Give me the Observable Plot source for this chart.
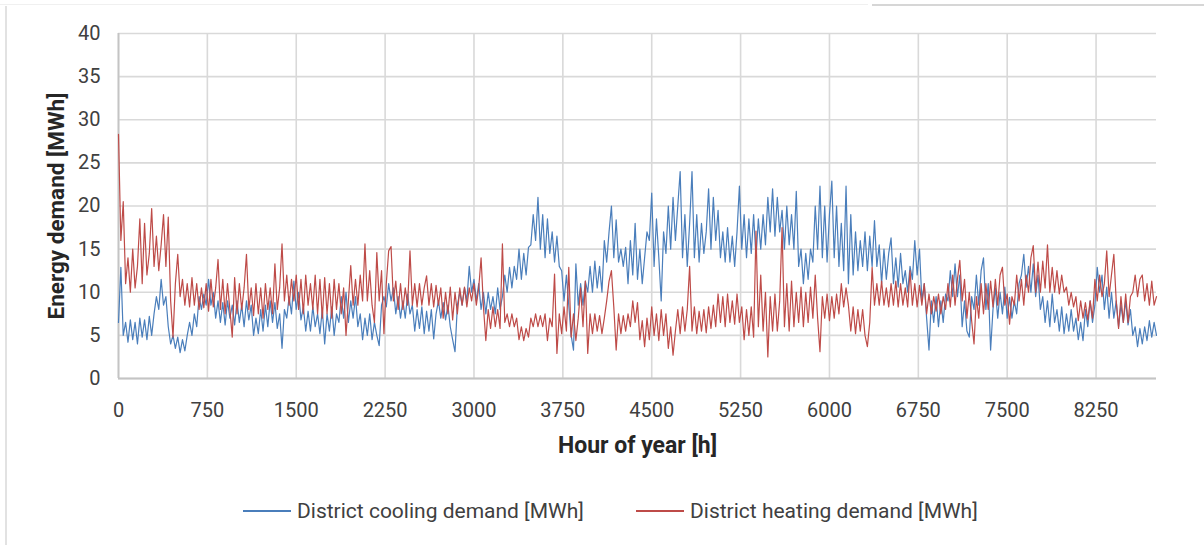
<!DOCTYPE html>
<html>
<head>
<meta charset="utf-8">
<script src="https://cdn.jsdelivr.net/npm/d3@7"></script>
<script src="https://cdn.jsdelivr.net/npm/@observablehq/plot@0.6"></script>
<style>
  html, body { margin: 0; padding: 0; background: #ffffff; }
  #wrap { position: relative; width: 1204px; height: 545px; overflow: hidden; background: #fff; font-family: Roboto, "Open Sans", sans-serif; }
  .frameL { position: absolute; left: 5px; top: 6px; width: 2px; height: 545px; background: #e2e2e2; }
  .frameT1 { position: absolute; left: 0px; top: 4px; width: 868px; height: 1px; background: #f0f0f0; }
  .frameT2 { position: absolute; left: 872px; top: 4px; width: 332px; height: 2px; background: #d6d6d6; }
  #chart { position: absolute; left: 0; top: 0; }
  .leg { position: absolute; top: 497px; height: 28px; display: flex; align-items: center; font-size: 21px; color: #404040; white-space: nowrap; }
  .leg .ln { width: 48px; height: 1.6px; margin-right: 6px; }
</style>
</head>
<body>
<div id="wrap">
  <div class="frameT1"></div>
  <div class="frameT2"></div>
  <div class="frameL"></div>
  <div id="chart"></div>
</div>
<script>
// ---- data ----
const stepHours = 20; // sampling interval of the readings, hours
const xTicks = [0, 750, 1500, 2250, 3000, 3750, 4500, 5250, 6000, 6750, 7500, 8250];
const yTicks = [0, 5, 10, 15, 20, 25, 30, 35, 40];
const seriesNames = ["District cooling demand [MWh]", "District heating demand [MWh]"];

// District cooling demand [MWh], one reading every 20 h from hour 0 to 8760 (10 readings per row)
const cooling = [
  6.5, 12.9, 5, 6.5, 4.2, 6.8, 4.5, 6.5, 4, 7,
  4.8, 6.8, 4.5, 7.2, 5, 7.5, 9.5, 8, 11.5, 8.5,
  9.5, 6, 4, 5, 3.5, 4.8, 3, 4.5, 3.2, 5,
  6.5, 5, 7.5, 6, 9.5, 8, 9.8, 8.5, 11.5, 8.5,
  10, 7, 9, 6.5, 8.8, 6.2, 9, 7, 8.5, 6.2,
  9, 6.5, 8.5, 6, 9, 6.8, 8.5, 5, 7, 5.2,
  8, 5.5, 8.5, 6, 9, 6.5, 8.8, 5.8, 7.5, 3.5,
  8, 7, 9.5, 7.5, 11.3, 8, 10, 6.8, 8.3, 5.5,
  7.8, 5.5, 8.3, 6, 7.5, 5.2, 8, 4, 7.5, 5.5,
  8.3, 5, 7.5, 6.5, 9.5, 7, 10, 6.5, 9, 7,
  9.5, 6, 7.5, 4.5, 7, 5, 7.5, 4.5, 6.5, 5,
  3.8, 8.5, 9.5, 8.3, 11, 9, 10.5, 7.5, 9.5, 7,
  9, 7, 9.8, 7.5, 8.5, 5.5, 8, 5.8, 8.3, 5.2,
  7.8, 5.5, 8, 4.6, 7.5, 9, 7, 8.8, 6.8, 8.5,
  6, 4.5, 3.1, 8.5, 10, 8.5, 10.5, 9, 13, 10,
  11.5, 9, 11, 8, 10, 7.5, 10, 8, 9.5, 7.5,
  10.5, 8, 9.5, 12, 10, 12.9, 10.5, 13, 11.5, 15,
  11.5, 14.5, 12, 15.2, 15.5, 19, 16, 21, 15, 19,
  14, 18.5, 14.5, 17, 13.5, 16.5, 13, 12.5, 9, 12,
  8.5, 5, 3.3, 13.3, 8.5, 11, 8.5, 11.3, 10, 13,
  10, 13.6, 10.5, 13, 10, 16, 13.5, 17, 20, 14,
  18.4, 13.5, 15, 13, 15.2, 11, 16, 12, 18, 11.5,
  15, 11, 14, 17, 16, 21.5, 13, 18.5, 14, 9,
  17, 14.5, 20, 15, 21, 16, 20, 24, 14, 19,
  13, 18, 24, 14, 19, 13.5, 18, 14.5, 17, 22,
  15, 21, 16, 19.5, 14, 17, 13.5, 17.5, 13.5, 16.5,
  13, 17, 22.3, 15, 19, 14, 18.5, 14.5, 19, 14,
  18.5, 15, 19, 15.5, 21, 17, 22, 16.5, 21, 17,
  19.5, 15, 20, 15.5, 19, 15, 21.7, 13, 15, 11,
  14.5, 11.5, 15, 13.5, 20, 15, 22.3, 14, 20, 13.5,
  19, 22.9, 14, 20, 13, 18, 12.5, 22.3, 11, 19,
  12, 17, 12.5, 16, 13, 17, 12.5, 16.5, 13, 18.3,
  13, 15.5, 11, 15, 11.5, 14.5, 16.3, 11, 14, 10.6,
  14.5, 11, 12.5, 10, 13, 11.5, 16, 12, 15, 9,
  11, 7, 3.3, 9, 6.5, 9.5, 6, 9, 6.5, 9.8,
  9, 12.5, 9.5, 13.3, 9.5, 12, 6, 9, 5.5, 4.8,
  9.5, 8, 12, 8.5, 12.5, 14, 8, 11, 3.3, 8,
  10.5, 7, 10, 7.5, 10.6, 7, 9.4, 7, 9, 7.5,
  11, 12, 14.4, 10.6, 13, 10, 13.3, 9.5, 12, 8,
  9.5, 6.5, 9, 6, 9.8, 6.5, 8, 5.5, 8.3, 5.2,
  7.5, 5.5, 8, 5.5, 7, 4.5, 6.5, 4.4, 8, 6,
  9, 6.5, 8.5, 12.9, 10, 12, 8, 10.6, 7, 10,
  7, 9, 6, 8.5, 6.5, 9, 6.2, 8, 5, 6,
  3.7, 5.8, 4, 6, 4.4, 6.7, 4.8, 6.5, 5
];

// District heating demand [MWh], one reading every 20 h from hour 0 to 8760 (10 readings per row)
const heating = [
  28.3, 16, 20.5, 11, 14, 10, 15, 10.5, 13, 18.5,
  11, 18, 12, 14.5, 19.7, 13, 16.5, 12.5, 15.5, 19,
  13, 18.7, 9, 4.8, 11, 14.4, 9.5, 11.5, 8.5, 11,
  8.3, 11.7, 8.5, 11, 8, 10.5, 8.2, 11, 7.8, 11.5,
  8.3, 10.5, 13.8, 8, 11.5, 7.5, 11, 8, 4.8, 11.7,
  7.5, 11, 8, 10.5, 14.4, 8, 10.5, 7.3, 11, 7.5,
  10.5, 7, 11, 8, 10.5, 7.5, 13.3, 8, 10.5, 15.6,
  9, 12, 8.5, 11.5, 9, 12, 8, 11.5, 7.5, 12,
  8.5, 11, 8, 12, 7.5, 11.5, 7, 11.7, 7.5, 11,
  7, 11.5, 8, 11, 7.5, 10.5, 5, 9, 13.1, 8.5,
  11.5, 8.5, 12, 9, 15.6, 9, 12.5, 8.5, 6.5, 14.6,
  9, 12.5, 5.2, 11, 14.8, 15.3, 9, 11.3, 8, 11,
  8, 10.5, 8.5, 14.8, 8.5, 11, 8.3, 11, 8.5, 10.5,
  11.9, 8.5, 11, 8.3, 10.8, 8.5, 10.5, 7, 10, 7.5,
  10.6, 6.8, 10, 7.5, 10.5, 8.5, 10.6, 8.3, 10.5, 9,
  11, 8.5, 10.5, 14, 8.3, 4.4, 8, 5.8, 8.3, 6,
  8, 5.8, 15.6, 6.5, 7.5, 6, 7.5, 6, 7, 4.5,
  6, 4.4, 5.8, 4.8, 7, 6, 7.5, 6, 7.3, 6,
  7.5, 4.4, 7, 6, 12.1, 2.9, 7.5, 5.2, 8.3, 5.5,
  12.9, 4.8, 7.5, 4.4, 7, 10.5, 6, 11.3, 2.9, 7.5,
  5.2, 7.5, 5.5, 7.3, 5.2, 7, 9, 11.3, 12.5, 8.3,
  3.3, 7.5, 5.2, 7.3, 5.5, 7.5, 6, 9, 6.5, 8.8,
  4.5, 6.7, 3.7, 7, 4.5, 8.3, 5, 7.5, 4.4, 8,
  5, 7.5, 3.5, 6, 2.7, 5.5, 8, 5.2, 8.3, 5.5,
  8, 13, 5.5, 8.3, 5.2, 7.8, 5.5, 8, 5.3, 8.3,
  5.8, 8.5, 6, 9.8, 6.5, 9.5, 6, 9.8, 6.5, 9,
  6.3, 9.8, 6.5, 8.3, 4.5, 8, 5, 8.3, 4.8, 17.1,
  6, 12, 5.5, 10, 2.5, 9.5, 5.5, 9.8, 5.5, 9,
  17.5, 6, 11, 5.5, 11.3, 6, 10, 6.5, 10.6, 6,
  10, 6.5, 10.6, 7, 12, 7, 3.1, 9.5, 7, 9.8,
  6.7, 9.5, 7, 9.8, 7.5, 11, 8.3, 10.5, 8.5, 5.5,
  8.3, 5.2, 8, 5.5, 8, 5, 3.7, 6.5, 12.9, 8.5,
  11, 8.5, 11.3, 8.5, 10.5, 8.3, 11, 8.5, 11.3, 8.3,
  11, 8.5, 10.5, 8.3, 12.5, 8.5, 11, 8.3, 10.8, 8.5,
  11, 7.5, 9.8, 7.5, 9.5, 7.8, 9.8, 7.5, 9.5, 8,
  11, 8.3, 12, 8.5, 11.5, 13.7, 9, 11.5, 7, 10,
  6.7, 4, 9.5, 7, 11, 7.5, 11, 8, 11.3, 8.3,
  11.5, 8.5, 12, 12.9, 8.5, 9.8, 6.3, 9.5, 8.5, 12,
  9, 11.5, 8.5, 12, 10, 14, 15.4, 10, 13.5, 10,
  13.6, 10.5, 15.5, 10, 12.9, 10, 12.5, 9.8, 12, 10,
  10.6, 8.5, 10, 8.3, 9.5, 6.7, 9, 7, 8.8, 6.8,
  9, 7, 11.5, 9, 12, 9.5, 11, 14.8, 9.5, 12,
  14.4, 9, 5.8, 9.5, 6.5, 9.8, 6.5, 9.5, 10, 12,
  9.5, 11.5, 12, 9, 11, 8.5, 11.3, 8.5, 9.5
];

const colors = ["#4a7ebb", "#be4b48"];

// ---- build tidy table ----
const rows = [];
[cooling, heating].forEach((arr, s) => {
  arr.forEach((v, i) => rows.push({hour: i * stepHours, value: v, series: seriesNames[s]}));
});

const fontStack = "Roboto, 'Open Sans', sans-serif";

const chart = Plot.plot({
  width: 1204,
  height: 480,
  marginLeft: 118,
  marginRight: 48,
  marginTop: 33,
  marginBottom: 102,
  style: {fontFamily: fontStack, fontSize: "20px", color: "#404040", background: "transparent"},
  x: {domain: [0, 8760]},
  y: {domain: [0, 40]},
  color: {domain: seriesNames, range: colors},
  marks: [
    Plot.gridY(yTicks, {stroke: "#d9d9d9", strokeOpacity: 1, strokeWidth: 1.6}),
    Plot.gridX(xTicks, {stroke: "#d9d9d9", strokeOpacity: 1, strokeWidth: 1.6}),
    Plot.ruleX([0], {stroke: "#c4c4c4", strokeWidth: 1.8}),
    Plot.ruleY([0], {stroke: "#c4c4c4", strokeWidth: 1.8}),
    Plot.lineY(rows, {x: "hour", y: "value", z: "series", stroke: "series", strokeWidth: 1.2, curve: "linear"}),
    Plot.axisY(yTicks, {tickSize: 0, tickPadding: 18, fontSize: 20, label: null, fill: "#404040"}),
    Plot.axisX(xTicks, {tickSize: 0, tickPadding: 24, fontSize: 20, label: null, fill: "#404040", tickFormat: d => String(d)}),
    Plot.text(["Hour of year [h]"], {frameAnchor: "bottom", dy: 74, fontSize: 23, fontWeight: "bold", fill: "#262626"}),
    Plot.text(["Energy demand [MWh]"], {frameAnchor: "left", textAnchor: "middle", dx: -62, rotate: -90, fontSize: 22.5, fontWeight: "bold", fill: "#262626"})
  ]
});
document.getElementById("chart").appendChild(chart);

// ---- legend (HTML, below the SVG) ----
const legendLeft = [243, 636];
seriesNames.forEach((name, i) => {
  const item = document.createElement("div");
  item.className = "leg";
  item.style.left = legendLeft[i] + "px";
  const ln = document.createElement("div");
  ln.className = "ln";
  ln.style.background = colors[i];
  const tx = document.createElement("span");
  tx.textContent = name;
  item.appendChild(ln);
  item.appendChild(tx);
  document.getElementById("wrap").appendChild(item);
});
</script>
</body>
</html>
